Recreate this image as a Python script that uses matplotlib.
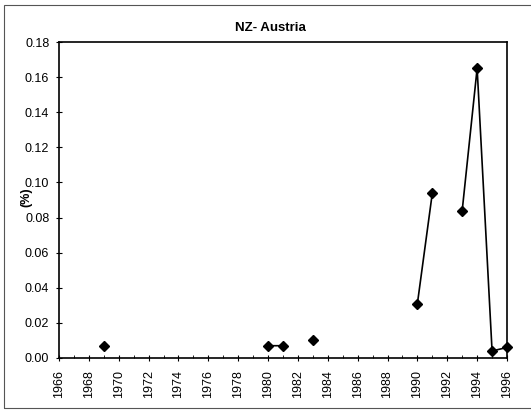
import numpy as np
import matplotlib
matplotlib.use("Agg")
import matplotlib.pyplot as plt
from matplotlib.patches import Rectangle

plt.rcParams['font.family'] = ['Liberation Sans', 'DejaVu Sans']

title = "NZ- Austria"
ylabel = "(%)"
years = list(range(1966, 1997))
values_known = {
    1969: 0.007,
    1980: 0.007,
    1981: 0.007,
    1983: 0.010,
    1990: 0.031,
    1991: 0.094,
    1993: 0.084,
    1994: 0.165,
    1995: 0.004,
    1996: 0.006,
}
values = [values_known.get(y, np.nan) for y in years]
xticks = list(range(1966, 1997, 2))
yticks = [0.00, 0.02, 0.04, 0.06, 0.08, 0.10, 0.12, 0.14, 0.16, 0.18]

fig = plt.figure(figsize=(5.31, 4.13), dpi=100)
ax = fig.add_axes([59/531, 1-358/413, (507-59)/531, (358-42)/413])

ax.plot(years, values, color='black', lw=1.2, marker='D', markersize=5.5,
        markerfacecolor='black', markeredgecolor='black', clip_on=False, zorder=3)

ax.set_xlim(1966, 1996)
ax.set_ylim(0, 0.18)
ax.set_xticks(xticks)
ax.set_xticklabels([str(x) for x in xticks], rotation=90, fontsize=9)
ax.set_xticks(years, minor=True)
ax.set_yticks(yticks)
ax.set_yticklabels([f"{v:.2f}" for v in yticks], fontsize=9)
ax.tick_params(axis='both', which='major', direction='inout', length=4, width=0.8)
ax.tick_params(axis='y', which='major', pad=5)
ax.tick_params(axis='x', which='major', pad=7)
ax.tick_params(axis='x', which='minor', direction='in', length=2, width=0.6)
for s in ax.spines.values():
    s.set_linewidth(1.2)

fig.text(270/531, 1-28/413, title, ha='center', va='center',
         fontsize=9.5, fontweight='bold')
ax.set_ylabel(ylabel, fontsize=9, fontweight='bold')
ax.yaxis.set_label_coords(-0.0725, 0.51)
ax.yaxis.label.set_va('center')

fig.patches.append(Rectangle((4/531, 5/413), 540/531, 403/413, transform=fig.transFigure,
                             fill=False, lw=0.8, edgecolor='#555555'))

fig.savefig("out.png", dpi=100)
